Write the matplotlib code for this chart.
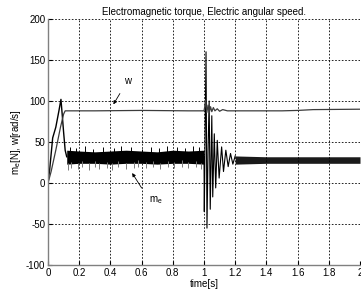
import matplotlib
matplotlib.use("Agg")
import matplotlib.pyplot as plt

# ---- data ----
# electric angular speed w [rad/s]
w_t = [0, 0.02, 0.05, 0.08, 0.10, 0.11, 0.30, 0.60, 0.90, 1.00, 1.005, 1.010, 1.018,
       1.026, 1.034, 1.042, 1.050, 1.060, 1.070, 1.085, 1.10, 1.12, 1.15, 1.20, 1.50,
       1.60, 1.70, 2.00]
w_v = [0, 14, 40, 68, 84, 88, 88, 88.5, 88, 88, 93, 101, 86, 95, 86, 93, 87, 92, 88,
       90.5, 87.5, 89.5, 88, 88, 88, 88.5, 89.5, 90]

# electromagnetic torque me [N] - start-up
me_start_t = [0, 0.01, 0.03, 0.05, 0.07, 0.083, 0.09, 0.10, 0.11, 0.12]
me_start_v = [0, 15, 55, 68, 88, 102, 86, 62, 40, 32]

# noisy steady band before load step (envelopes)
band_t = [0.12, 0.2, 0.3, 0.4, 0.5, 0.6, 0.7, 0.8, 0.9, 1.0]
band_hi = [40, 39, 38, 39, 40, 39, 38, 40, 39, 40]
band_lo = [23, 24, 24, 23, 24, 24, 23, 24, 24, 23]

# downward noise spikes
spike_dn_t = [0.13, 0.15, 0.19, 0.22, 0.26, 0.30, 0.33, 0.38, 0.41, 0.45, 0.50, 0.55,
              0.58, 0.63, 0.67, 0.72, 0.77, 0.81, 0.86, 0.90, 0.95, 0.98]
spike_dn_v = [16, 18, 17, 19, 16, 19, 17, 18, 16, 19, 17, 18, 20, 18, 19, 17, 19, 18,
              20, 18, 19, 17]
# upward noise spikes
spike_up_t = [0.14, 0.18, 0.24, 0.29, 0.35, 0.42, 0.47, 0.53, 0.60, 0.66, 0.71, 0.76,
              0.83, 0.88, 0.93, 0.97]
spike_up_v = [44, 43, 45, 42, 44, 43, 45, 44, 42, 44, 43, 45, 44, 43, 45, 44]

# transient after the load step at t = 1 s
me_tr_t = [1.0, 1.002, 1.006, 1.013, 1.019, 1.026, 1.033, 1.040, 1.050, 1.056, 1.066,
           1.075, 1.085, 1.097, 1.113, 1.125, 1.14, 1.155, 1.17, 1.185, 1.20]
me_tr_v = [32, -35, 40, 160, -55, 40, 100, -32, 82, -17, 60, -6, 52, 6, 44, 14, 40,
           20, 36, 23, 33]

# ripple band after the transient
rip_t = [1.2, 1.4, 1.6, 1.8, 2.0]
rip_hi = [33, 32, 32, 32, 32]
rip_lo = [23, 24, 24, 24, 24]

x_ticks = [0, 0.2, 0.4, 0.6, 0.8, 1, 1.2, 1.4, 1.6, 1.8, 2]
x_labels = ["0", "0.2", "0.4", "0.6", "0.8", "1", "1.2", "1.4", "1.6", "1.8", "2"]
y_ticks = [-100, -50, 0, 50, 100, 150, 200]
y_labels = ["-100", "-50", "0", "50", "100", "150", "200"]

plt.rcParams['font.family'] = ['Liberation Sans', 'DejaVu Sans']

fig = plt.figure(figsize=(3.61, 2.97), dpi=100)
ax = fig.add_axes([48 / 361, 32 / 297, 312 / 361, 246 / 297])

blk = "#000000"
gry = "#7a7a7a"

# torque
ax.fill_between(band_t, band_lo, band_hi, color=blk, lw=0)
ax.vlines(spike_dn_t, [v + 8 for v in spike_dn_v], spike_dn_v, color=gry, lw=0.7)
ax.vlines(spike_up_t, [v - 8 for v in spike_up_v], spike_up_v, color=blk, lw=0.7)
ax.plot(me_start_t, me_start_v, color=blk, lw=1.0)
ax.plot(me_tr_t, me_tr_v, color=blk, lw=0.8)
ax.fill_between(rip_t, rip_lo, rip_hi, color="#1a1a1a", lw=0)

# speed
ax.plot(w_t, w_v, color="#3c3c3c", lw=0.9)

ax.set_xlim(0, 2)
ax.set_ylim(-100, 200)
ax.set_xticks(x_ticks)
ax.set_xticklabels(x_labels)
ax.set_yticks(y_ticks)
ax.set_yticklabels(y_labels)
ax.tick_params(direction="in", length=3, labelsize=7, colors="#000000", pad=2)
ax.grid(True, color="black", linestyle=(0, (2, 2)), linewidth=0.6)
for s in ["top", "right"]:
    ax.spines[s].set_visible(False)
for s in ["left", "bottom"]:
    ax.spines[s].set_color("#808080")
    ax.spines[s].set_linewidth(1.0)

ax.set_title("Electromagnetic torque, Electric angular speed.", fontsize=7, pad=3)
ax.set_xlabel("time[s]", fontsize=7, labelpad=1)
ax.set_ylabel("m$_\\mathregular{e}$[N], w[rad/s]", fontsize=7, labelpad=2)

# annotations
ax.annotate("", xy=(0.41, 93), xytext=(0.47, 112),
            arrowprops=dict(arrowstyle="-|>", color="black", lw=0.6,
                            mutation_scale=5))
ax.text(0.51, 124, "w", fontsize=7, ha="center", va="center")
ax.annotate("", xy=(0.53, 15), xytext=(0.61, -9),
            arrowprops=dict(arrowstyle="-|>", color="black", lw=0.6,
                            mutation_scale=5))
ax.text(0.69, -21, "m$_\\mathregular{e}$", fontsize=7, ha="center", va="center")

fig.savefig("out.png", dpi=100, facecolor="white")
